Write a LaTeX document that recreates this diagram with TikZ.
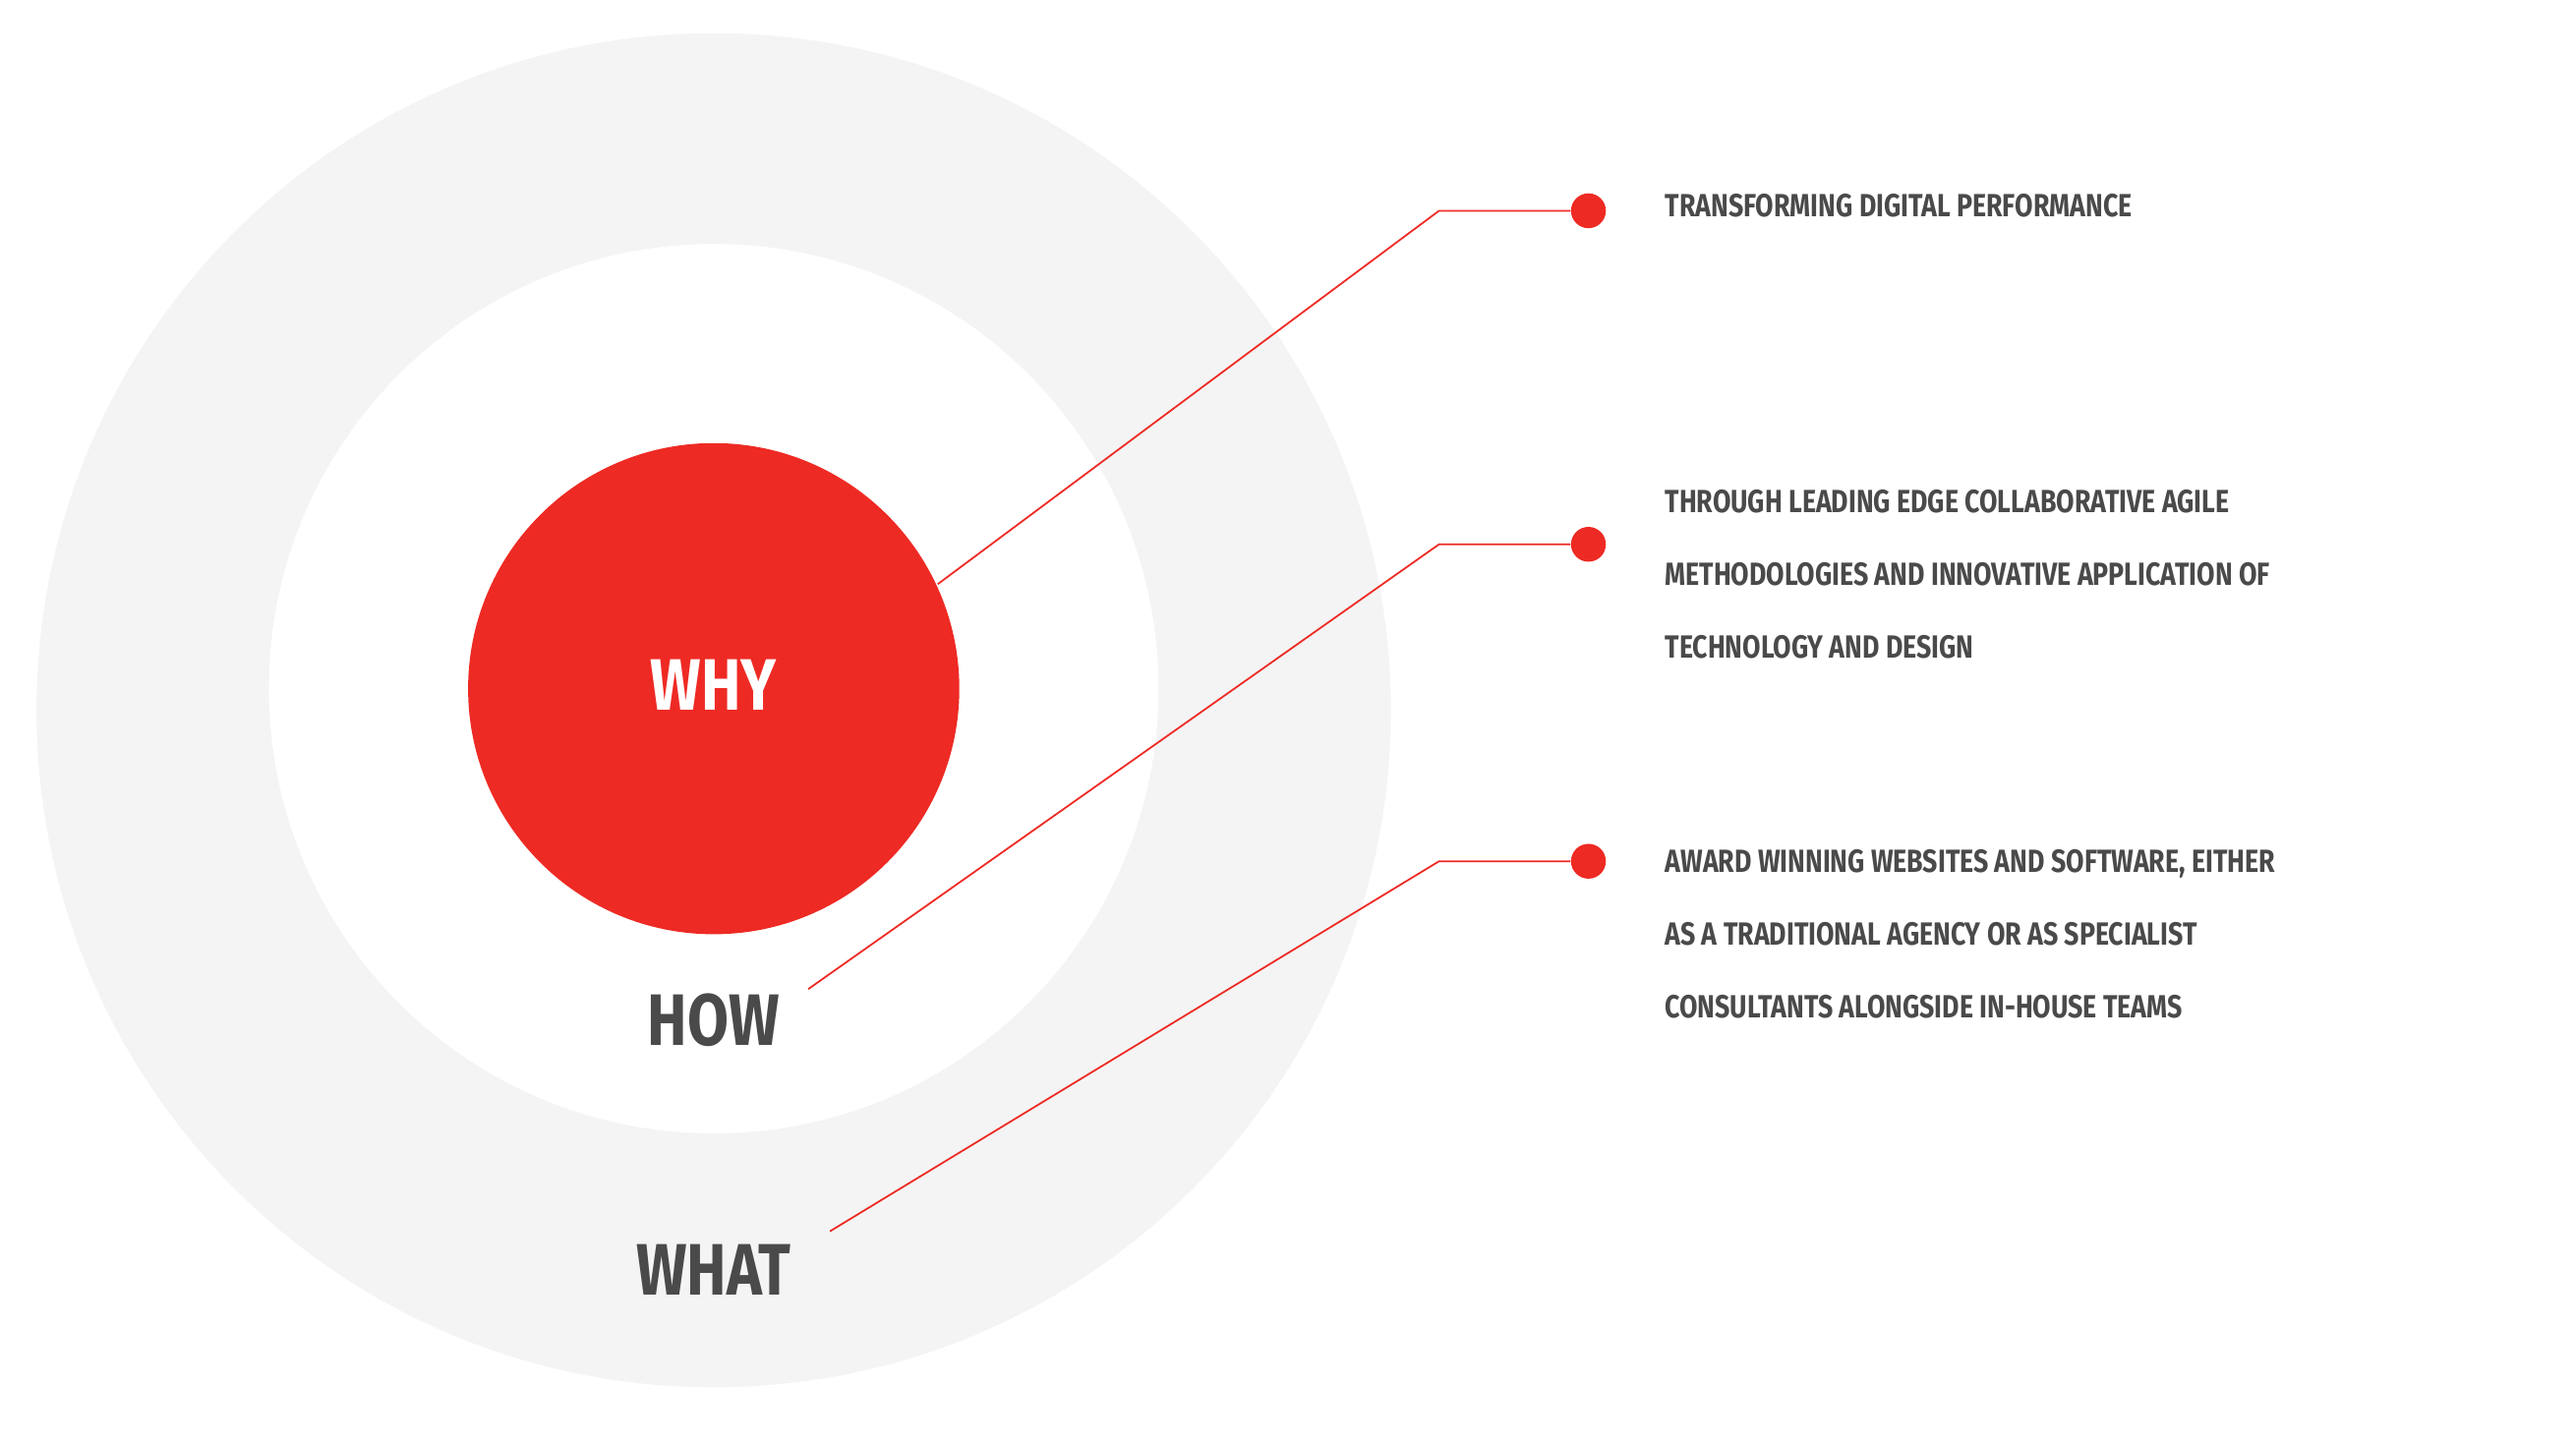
\documentclass[tikz,border=0pt]{standalone}
\usepackage{fontspec}
\setmainfont[FakeStretch=0.82]{Fira Sans}
\usetikzlibrary{positioning}
\definecolor{whyred}{HTML}{EE2A24}
\definecolor{ringgray}{HTML}{F4F4F4}
\definecolor{txtgray}{HTML}{4A4A4A}
\begin{document}
\begin{tikzpicture}[x=0.02cm,y=-0.02cm,
   ring/.style={circle,inner sep=0pt},
   lead/.style={draw=whyred,line width=0.6pt},
   dot/.style={circle,fill=whyred,inner sep=0pt,minimum size=0.42cm},
   big/.style={font=\fontsize{25}{25}\selectfont\bfseries,text=txtgray},
   desc/.style={font=\fontsize{11}{25}\selectfont\bfseries,text=txtgray,anchor=west,align=left}]
\useasboundingbox (0,0) rectangle (1552,870);
\fill[ringgray] (430,428) circle (408);
\fill[white] (430,415) circle (268);
\node[ring,fill=whyred,minimum size=5.92cm] (why) at (430,415) {};
\node[big,text=white] (whytxt) at (430,413) {WHY};
\node[big] (how) at (430,615) {HOW};
\node[big] (what) at (430,765) {WHAT};
% dots and texts
\node[dot] (d1) at (957,127) {};
\node[dot] (d2) at (957,328) {};
\node[dot] (d3) at (957,519) {};
\node[desc] (t1) at (997,124) {TRANSFORMING DIGITAL PERFORMANCE};
\node[desc] (t2) at (997,346) {THROUGH LEADING EDGE COLLABORATIVE AGILE\\METHODOLOGIES AND INNOVATIVE APPLICATION OF\\TECHNOLOGY AND DESIGN};
\node[desc] (t3) at (997,563) {AWARD WINNING WEBSITES AND SOFTWARE, EITHER\\AS A TRADITIONAL AGENCY OR AS SPECIALIST\\CONSULTANTS ALONGSIDE IN-HOUSE TEAMS};
% leaders
\coordinate (s1) at (565,352);
\coordinate (s2) at (487,596);
\coordinate (s3) at (500,742);
\draw[lead] (s1) -- (867,127) -- (d1);
\draw[lead] (s2) -- (867,328) -- (d2);
\draw[lead] (s3) -- (867,519) -- (d3);
\end{tikzpicture}
\end{document}
